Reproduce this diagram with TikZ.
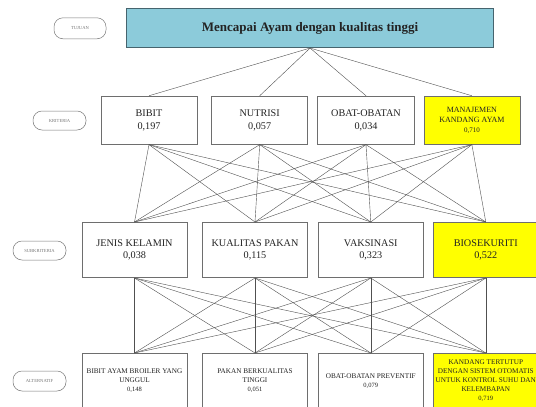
\documentclass[tikz,border=0pt]{standalone}
\usepackage{fontspec}
\setmainfont{Liberation Serif}
\definecolor{goalfill}{RGB}{140,203,218}
\definecolor{goalline}{RGB}{70,100,110}
\definecolor{boxline}{RGB}{110,110,110}
\definecolor{linkcol}{RGB}{80,80,80}
\definecolor{txt}{RGB}{35,35,35}
\definecolor{hilite}{RGB}{255,255,0}
\definecolor{pillcol}{RGB}{120,120,120}
\tikzset{
  box/.style={draw=boxline, line width=0.6pt, fill=white, inner sep=0pt, align=center, text=txt},
  goalbox/.style={draw=goalline, line width=0.7pt, fill=goalfill, inner sep=0pt, align=center, text=txt,
    minimum width=367pt, minimum height=39.4pt, font=\fontsize{13}{15}\selectfont\bfseries},
  crit/.style={box, minimum width=96pt, minimum height=48.3pt, font=\fontsize{10.2}{12.5}\selectfont},
  sub/.style={box, minimum width=105pt, minimum height=55.4pt, font=\fontsize{10.2}{12.3}\selectfont},
  alt/.style={box, minimum width=105pt, minimum height=55.4pt, font=\fontsize{7.2}{8.6}\selectfont},
  hl/.style={fill=hilite},
  pill/.style={draw=pillcol, line width=0.5pt, rounded corners=9pt, inner sep=0pt,
    minimum width=53pt, minimum height=20pt, text=pillcol, font=\fontsize{4.6}{5}\selectfont},
  link/.style={draw=linkcol, line width=0.4pt},
}
\begin{document}
\begin{tikzpicture}[x=1pt,y=-1pt]
\useasboundingbox (0,0) rectangle (536,407);
\clip (0,0) rectangle (536,407);
\fill[white] (0,0) rectangle (536,407);
% level labels
\node[pill, minimum width=52pt, minimum height=21pt] (ltuj) at (80,28.3) {TUJUAN};
\node[pill, minimum height=19pt] (lkri) at (59.5,120.5) {KRITERIA};
\node[pill, minimum height=19pt] (lsub) at (39.5,250.5) {SUBKRITERIA};
\node[pill] (lalt) at (39.5,381) {ALTERNATIF};
% goal
\node[goalbox] (goal) at (310.1,28) {Mencapai Ayam dengan kualitas tinggi};
% criteria
\node[crit] (c1) at (149,120.2) {BIBIT\\0,197};
\node[crit] (c2) at (259.7,120.2) {NUTRISI\\0,057};
\node[crit, minimum width=96.6pt] (c3) at (366,120.2) {OBAT-OBATAN\\0,034};
\node[crit, hl, font=\fontsize{8}{10.2}\selectfont] (c4) at (471.9,120.2) {MANAJEMEN\\KANDANG AYAM\\{\fontsize{7}{8}\selectfont 0,710}};
% sub criteria
\node[sub] (s1) at (134.5,250) {JENIS KELAMIN\\0,038};
\node[sub, minimum width=104.6pt] (s2) at (255,250) {KUALITAS PAKAN\\0,115};
\node[sub] (s3) at (370.8,250) {VAKSINASI\\0,323};
\node[sub, hl] (s4) at (485.8,250) {BIOSEKURITI\\0,522};
% alternatives
\node[alt] (a1) at (134.5,381) {BIBIT AYAM BROILER YANG\\UNGGUL\\[1pt]{\fontsize{6.5}{8}\selectfont 0,148}};
\node[alt, minimum width=104.6pt] (a2) at (255,381) {PAKAN BERKUALITAS\\TINGGI\\[1pt]{\fontsize{6.5}{8}\selectfont 0,051}};
\node[alt] (a3) at (370.8,381) {OBAT-OBATAN PREVENTIF\\{\fontsize{6.5}{8}\selectfont 0,079}};
\node[alt, hl, font=\fontsize{7.2}{9}\selectfont] (a4) at (485.8,381) {KANDANG TERTUTUP\\DENGAN SISTEM OTOMATIS\\UNTUK KONTROL SUHU DAN\\KELEMBAPAN\\{\fontsize{6.5}{8}\selectfont 0,719}};
% connectors
\foreach \c in {c1,c2,c3,c4} \draw[link] (goal.south) -- (\c.north);
\foreach \c in {c1,c2,c3,c4} \foreach \s in {s1,s2,s3,s4} \draw[link] (\c.south) -- (\s.north);
\foreach \s in {s1,s2,s3,s4} \foreach \a in {a1,a2,a3,a4} \draw[link] (\s.south) -- (\a.north);
\end{tikzpicture}
\end{document}
